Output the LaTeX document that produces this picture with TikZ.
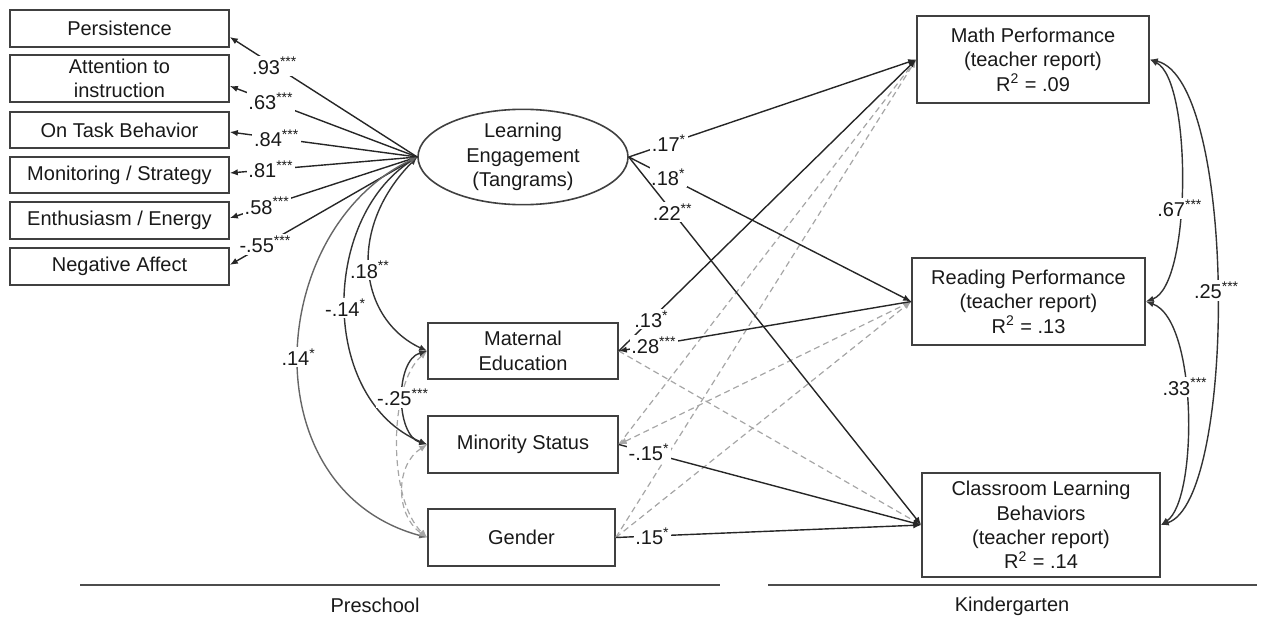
\documentclass[tikz,border=0pt]{standalone}
\usepackage{fontspec}
\setmainfont{Liberation Sans}
\usetikzlibrary{arrows.meta,shapes.geometric}
\begin{document}
\begin{tikzpicture}[x=0.5pt,y=-0.5pt,>={Latex[length=4pt,width=3.2pt]},
 font=\fontsize{10}{12.2}\selectfont,
 box/.style={draw=black!75,line width=0.8pt,align=center,inner sep=0pt,text=black!90},
 lab/.style={fill=white,inner sep=0.8pt,text=black!90},
 pth/.style={draw=black!85,line width=0.7pt,->},
 cov/.style={draw=black!80,line width=0.7pt,<->},
 dpth/.style={draw=black!35,line width=0.6pt,dash pattern=on 3pt off 2pt,->},
 sep/.style={draw=black!70,line width=0.8pt}]
\useasboundingbox (0,0) rectangle (1267,620);
% indicator boxes
\node[box,minimum width=109.5pt,minimum height=18.5pt] (P) at (119.5,28.5) {Persistence};
\node[box,minimum width=109.5pt,minimum height=23.5pt] (A) at (119.5,78.5) {Attention to\\instruction};
\node[box,minimum width=109.5pt,minimum height=18pt] (O) at (119.5,130) {On Task Behavior};
\node[box,minimum width=109.5pt,minimum height=18pt] (M) at (119.5,175) {Monitoring / Strategy};
\node[box,minimum width=109.5pt,minimum height=18.5pt] (E) at (119.5,220.5) {Enthusiasm / Energy};
\node[box,minimum width=109.5pt,minimum height=18.5pt] (N) at (119.5,266.5) {Negative Affect};
% latent
\node[draw=black!75,line width=0.8pt,ellipse,minimum width=105pt,minimum height=43pt,inner sep=0pt,align=center,text=black!90] (LE) at (523,157) {Learning\\Engagement\\(Tangrams)};
% covariates
\node[box,minimum width=95pt,minimum height=28pt] (ME) at (523,351) {Maternal\\Education};
\node[box,minimum width=95pt,minimum height=28.5pt] (MS) at (523,444.5) {Minority Status};
\node[box,minimum width=93.5pt,minimum height=28.5pt] (G) at (521.5,537.5) {Gender};
% outcomes
\node[box,minimum width=116pt,minimum height=43.5pt] (MP) at (1033,59.5) {Math Performance\\(teacher report)\\R\textsuperscript{2} = .09};
\node[box,minimum width=116.5pt,minimum height=43.5pt] (RP) at (1028.5,301.5) {Reading Performance\\(teacher report)\\R\textsuperscript{2} = .13};
\node[box,minimum width=119pt,minimum height=52pt] (CL) at (1041,525) {Classroom Learning\\Behaviors\\(teacher report)\\R\textsuperscript{2} = .14};
% loadings
\draw[pth] (LE.west) -- node[lab,pos=0.76]{.93\textsuperscript{***}} ([yshift=-4.25pt]P.east);
\draw[pth] (LE.west) -- node[lab,pos=0.78]{.63\textsuperscript{***}} ([yshift=-3.75pt]A.east);
\draw[pth] (LE.west) -- node[lab,pos=0.75]{.84\textsuperscript{***}} ([yshift=-1pt]O.east);
\draw[pth] (LE.west) -- node[lab,pos=0.78]{.81\textsuperscript{***}} ([yshift=1pt]M.east);
\draw[pth] (LE.west) -- node[lab,pos=0.80]{.58\textsuperscript{***}} ([yshift=1.2pt]E.east);
\draw[pth] (LE.west) -- node[lab,pos=0.81]{-.55\textsuperscript{***}} ([yshift=0.8pt]N.east);
% dashed non-significant paths
\draw[dpth] (ME.east) -- (CL.west);
\draw[dpth] (MS.east) -- (MP.west);
\draw[dpth,<->] (MS.east) -- (RP.west);
\draw[dpth] (G.east) -- (MP.west);
\draw[dpth] (G.east) -- (RP.west);
% significant paths
\draw[pth] (LE.east) -- node[lab,pos=0.14]{.17\textsuperscript{*}} (MP.west);
\draw[pth] (LE.east) -- node[lab,pos=0.14]{.18\textsuperscript{*}} (RP.west);
\draw[pth] (LE.east) -- node[lab,pos=0.15]{.22\textsuperscript{**}} (CL.west);
\draw[pth] (ME.east) -- node[lab,pos=0.11]{.13\textsuperscript{*}} (MP.west);
\draw[pth] (RP.west) -- node[lab,pos=0.88]{.28\textsuperscript{***}} (ME.east);
\draw[pth] (MS.east) -- node[lab,pos=0.1]{-.15\textsuperscript{*}} (CL.west);
\draw[pth] (G.east) -- node[lab,pos=0.12]{.15\textsuperscript{*}} (CL.west);
% covariances left
\draw[cov] (LE.west) .. controls (345,230) and (360,320) .. node[lab,pos=0.5]{.18\textsuperscript{**}} (ME.west);
\draw[cov] (LE.west) .. controls (320,220) and (320,400) .. node[lab,pos=0.5]{-.14\textsuperscript{*}} (MS.west);
\draw[cov,draw=black!60] (LE.west) .. controls (265,230) and (250,490) .. node[lab,pos=0.5]{.14\textsuperscript{*}} (G.west);
\draw[dpth,<->] (ME.west) .. controls (388,385) and (388,500) .. (G.west);
\draw[dpth,<->] (MS.west) .. controls (395,465) and (395,515) .. (G.west);
\draw[cov] (ME.west) .. controls (395,360) and (395,435) .. node[lab,pos=0.5]{-.25\textsuperscript{***}} (MS.west);
% covariances right
\draw[cov] (MP.east) .. controls (1192,80) and (1192,285) .. node[lab,pos=0.58]{.67\textsuperscript{***}} (RP.east);
\draw[cov] (MP.east) .. controls (1237,80) and (1237,500) .. node[lab,pos=0.5]{.25\textsuperscript{***}} (CL.east);
\draw[cov] (RP.east) .. controls (1198,320) and (1198,500) .. node[lab,pos=0.42]{.33\textsuperscript{***}} (CL.east);
% time separators
\draw[sep] (80,585) -- (720,585);
\draw[sep] (768,585) -- (1257,585);
\node[text=black!90] (pre) at (375,605) {Preschool};
\node[text=black!90] (kin) at (1012,606) {Kindergarten};
\end{tikzpicture}
\end{document}
